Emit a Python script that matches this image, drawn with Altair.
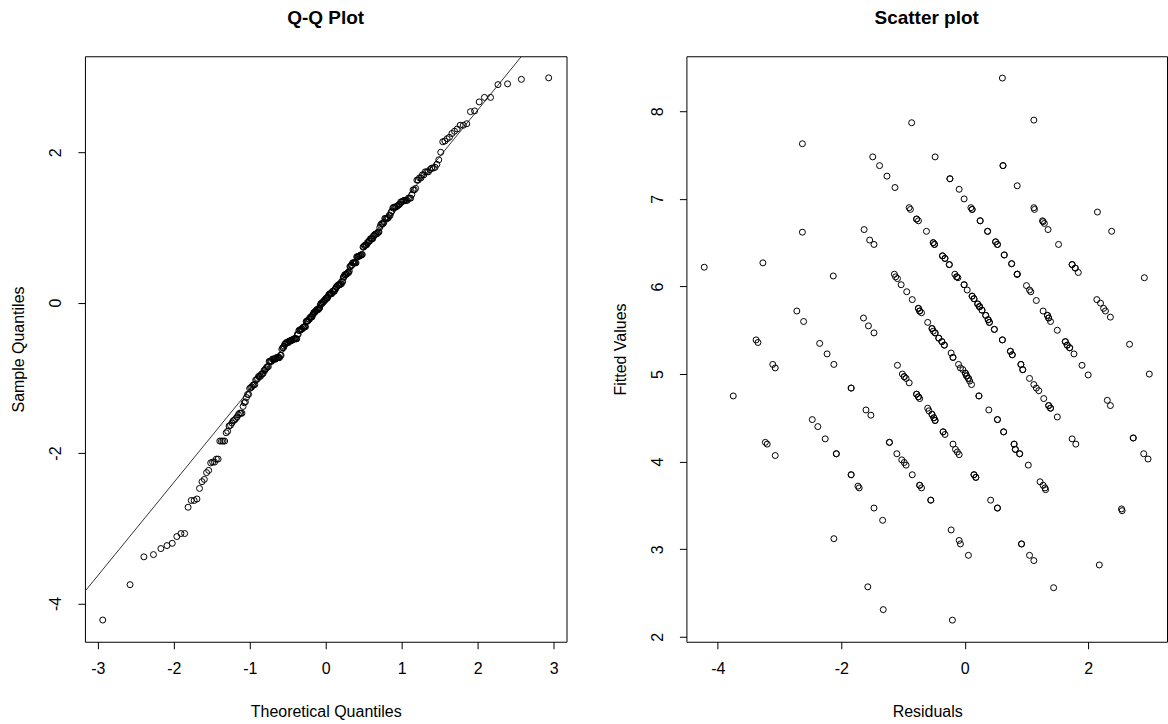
import altair as alt
import pandas as pd

# (residual, fitted value) pairs, grouped by the observed response they add up to
level_1 = [(-3.75, 4.75), (-3.23, 4.22), (-3.20, 4.20), (-3.07, 4.07), (-2.12, 3.12),
           (-1.57, 2.57), (-1.32, 2.31)]
level_2 = [(-4.22, 6.22), (-3.38, 5.39), (-3.35, 5.36), (-3.11, 5.11), (-3.07, 5.07),
           (-2.47, 4.48), (-2.38, 4.40), (-2.26, 4.26), (-2.08, 4.09), (-2.08, 4.09),
           (-1.84, 3.85), (-1.84, 3.85), (-1.73, 3.72), (-1.71, 3.70), (-1.47, 3.47),
           (-1.33, 3.33), (-0.20, 2.19)]
level_3 = [(-3.27, 6.27), (-2.72, 5.72), (-2.61, 5.60), (-2.35, 5.35), (-2.23, 5.23),
           (-2.12, 5.11), (-1.84, 4.84), (-1.84, 4.84), (-1.60, 4.59), (-1.52, 4.53),
           (-1.22, 4.22), (-1.22, 4.22), (-1.10, 4.09), (-1.02, 4.02), (-0.98, 3.99),
           (-0.95, 3.96), (-0.85, 3.85), (-0.73, 3.73), (-0.73, 3.73), (-0.70, 3.70),
           (-0.55, 3.56), (-0.55, 3.56), (-0.22, 3.22), (-0.09, 3.10), (-0.07, 3.06),
           (0.06, 2.93)]
level_4 = [(-2.63, 6.62), (-2.13, 6.12), (-1.64, 5.64), (-1.56, 5.55), (-1.47, 5.47),
           (-1.09, 5.10), (-1.01, 5.00), (-0.98, 4.97), (-0.98, 4.97), (-0.95, 4.95),
           (-0.90, 4.90), (-0.78, 4.77), (-0.78, 4.77), (-0.75, 4.74), (-0.75, 4.74),
           (-0.73, 4.72), (-0.60, 4.61), (-0.58, 4.58), (-0.53, 4.54), (-0.53, 4.54),
           (-0.50, 4.50), (-0.50, 4.50), (-0.48, 4.47), (-0.48, 4.47), (-0.35, 4.34),
           (-0.35, 4.34), (-0.32, 4.31), (-0.19, 4.20), (-0.15, 4.14), (-0.12, 4.11),
           (-0.09, 4.08), (0.15, 3.85), (0.15, 3.85), (0.18, 3.82), (0.18, 3.82),
           (0.42, 3.56), (0.53, 3.47), (0.53, 3.47), (0.92, 3.06), (0.92, 3.06),
           (1.05, 2.93), (1.12, 2.87), (1.44, 2.56)]
level_5 = [(-2.63, 7.63), (-1.63, 6.65), (-1.54, 6.53), (-1.47, 6.48), (-1.14, 6.14),
           (-1.12, 6.11), (-1.09, 6.09), (-1.03, 6.02), (-0.94, 5.94), (-0.85, 5.85),
           (-0.75, 5.75), (-0.75, 5.75), (-0.73, 5.72), (-0.73, 5.72), (-0.70, 5.70),
           (-0.60, 5.59), (-0.53, 5.52), (-0.53, 5.52), (-0.51, 5.49), (-0.48, 5.47),
           (-0.48, 5.47), (-0.42, 5.41), (-0.42, 5.41), (-0.37, 5.37), (-0.37, 5.37),
           (-0.33, 5.33), (-0.33, 5.33), (-0.22, 5.24), (-0.19, 5.19), (-0.19, 5.19),
           (-0.10, 5.11), (-0.07, 5.07), (-0.03, 5.05), (0.01, 5.01), (0.01, 5.01),
           (0.03, 4.98), (0.03, 4.98), (0.06, 4.95), (0.06, 4.95), (0.08, 4.92),
           (0.11, 4.88), (0.23, 4.75), (0.23, 4.75), (0.39, 4.59), (0.53, 4.48),
           (0.53, 4.48), (0.63, 4.34), (0.63, 4.34), (0.80, 4.20), (0.80, 4.20),
           (0.82, 4.14), (0.82, 4.14), (0.89, 4.09), (0.89, 4.09), (1.03, 3.96),
           (1.22, 3.77), (1.27, 3.73), (1.30, 3.70), (1.31, 3.68), (2.18, 2.82)]
level_6 = [(-1.49, 7.48), (-1.38, 7.38), (-1.26, 7.26), (-1.13, 7.13), (-0.90, 6.90),
           (-0.88, 6.88), (-0.78, 6.77), (-0.78, 6.77), (-0.75, 6.75), (-0.62, 6.63),
           (-0.51, 6.50), (-0.51, 6.50), (-0.49, 6.48), (-0.49, 6.48), (-0.36, 6.35),
           (-0.36, 6.35), (-0.32, 6.32), (-0.32, 6.32), (-0.25, 6.25), (-0.25, 6.25),
           (-0.16, 6.14), (-0.13, 6.11), (-0.13, 6.11), (-0.11, 6.10), (-0.01, 6.02),
           (-0.01, 6.02), (0.04, 5.96), (0.12, 5.89), (0.12, 5.89), (0.15, 5.86),
           (0.15, 5.86), (0.21, 5.80), (0.21, 5.80), (0.24, 5.77), (0.24, 5.77),
           (0.24, 5.77), (0.28, 5.73), (0.28, 5.73), (0.34, 5.67), (0.34, 5.67),
           (0.38, 5.62), (0.38, 5.62), (0.40, 5.59), (0.40, 5.59), (0.48, 5.51),
           (0.48, 5.51), (0.61, 5.39), (0.61, 5.39), (0.74, 5.26), (0.74, 5.26),
           (0.77, 5.22), (0.77, 5.22), (0.91, 5.11), (0.91, 5.11), (0.94, 5.05),
           (0.94, 5.05), (1.05, 4.95), (1.12, 4.88), (1.16, 4.84), (1.20, 4.81),
           (1.28, 4.72), (1.36, 4.64), (1.36, 4.64), (1.39, 4.61), (1.39, 4.61),
           (1.50, 4.51), (1.74, 4.26), (1.80, 4.20), (2.54, 3.46), (2.55, 3.44)]
level_7 = [(-0.86, 7.87), (-0.48, 7.48), (-0.24, 7.23), (-0.24, 7.23), (-0.09, 7.11),
           (-0.01, 7.00), (0.10, 6.90), (0.12, 6.88), (0.12, 6.88), (0.25, 6.75),
           (0.25, 6.75), (0.37, 6.63), (0.37, 6.63), (0.50, 6.51), (0.50, 6.51),
           (0.53, 6.48), (0.53, 6.48), (0.64, 6.36), (0.64, 6.36), (0.76, 6.26),
           (0.76, 6.26), (0.85, 6.14), (0.85, 6.14), (0.85, 6.14), (1.00, 6.01),
           (1.05, 5.96), (1.07, 5.94), (1.16, 5.84), (1.27, 5.72), (1.34, 5.67),
           (1.34, 5.67), (1.36, 5.64), (1.36, 5.64), (1.39, 5.60), (1.50, 5.50),
           (1.63, 5.37), (1.63, 5.37), (1.66, 5.33), (1.66, 5.33), (1.70, 5.30),
           (1.70, 5.30), (1.77, 5.23), (1.90, 5.10), (2.00, 4.99), (2.31, 4.70),
           (2.36, 4.64), (2.73, 4.27), (2.73, 4.27), (2.90, 4.09), (2.97, 4.03)]
level_8 = [(0.62, 7.38), (0.62, 7.38), (0.85, 7.15), (1.12, 6.90), (1.13, 6.88),
           (1.26, 6.75), (1.27, 6.74), (1.29, 6.72), (1.35, 6.65), (1.52, 6.48),
           (1.74, 6.25), (1.74, 6.25), (1.79, 6.21), (1.79, 6.21), (1.84, 6.16),
           (2.14, 5.85), (2.20, 5.81), (2.25, 5.75), (2.28, 5.72), (2.36, 5.65),
           (2.67, 5.34), (2.99, 5.00)]
level_9 = [(0.61, 8.38), (1.12, 7.90), (2.15, 6.85), (2.38, 6.63), (2.91, 6.10)]

levels = [level_1, level_2, level_3, level_4, level_5, level_6, level_7, level_8, level_9]
df = pd.DataFrame([{"residual": r, "fitted": f} for lv in levels for r, f in lv])

qq_x_ticks = [-3, -2, -1, 0, 1, 2, 3]
qq_y_ticks = [-4, -2, 0, 2]
sc_x_ticks = [-4, -2, 0, 2]
sc_y_ticks = [2, 3, 4, 5, 6, 7, 8]

FONT = "Liberation Sans"
W, H = 482, 586


def x_axis(values, title):
    return alt.Axis(
        values=values, title=title, grid=False, domain=False,
        ticks=True, tickSize=7, tickColor="black", tickWidth=1,
        labelFont=FONT, labelFontSize=16, labelColor="black", labelPadding=12,
        labelFlush=False, labelOverlap=False, labelExpr="'' + datum.value",
        titleFont=FONT, titleFontSize=16, titleFontWeight="normal", titleColor="black",
        titleX=W / 2, titleY=70, titleAlign="center", titleBaseline="middle",
    )


def y_axis(values, title):
    return alt.Axis(
        values=values, title=title, grid=False, domain=False,
        ticks=True, tickSize=7, tickColor="black", tickWidth=1,
        labelFont=FONT, labelFontSize=16, labelColor="black", labelPadding=14,
        labelAngle=270, labelAlign="center", labelBaseline="bottom",
        labelFlush=False, labelOverlap=False, labelExpr="'' + datum.value",
        titleFont=FONT, titleFontSize=16, titleFontWeight="normal", titleColor="black",
        titleAngle=270, titleX=-66, titleY=H / 2, titleAlign="center",
        titleBaseline="middle",
    )


def heading(text, width):
    # bold heading centred above the plot frame
    return (
        alt.Chart(pd.DataFrame({"label": [text]}))
        .mark_text(font=FONT, fontSize=19, fontWeight="bold", color="black",
                   align="center", baseline="middle")
        .encode(text="label:N", x=alt.value(width / 2), y=alt.value(-38))
    )


circle = dict(shape="circle", filled=False, size=36, strokeWidth=1,
              color="black", opacity=1)

# Normal Q-Q plot of the residuals: theoretical quantiles from the ranks
qq_base = (
    alt.Chart(df)
    .transform_window(rank="row_number()", sort=[alt.SortField("residual", order="ascending")])
    .transform_joinaggregate(n="count()")
    .transform_calculate(theoretical="quantileNormal((datum.rank - 0.5) / datum.n)")
)
qq_x = alt.X("theoretical:Q", scale=alt.Scale(domain=[-3.17, 3.17], nice=False, zero=False),
             axis=x_axis(qq_x_ticks, "Theoretical Quantiles"))
qq_y = alt.Y("residual:Q", scale=alt.Scale(domain=[-4.509, 3.277], nice=False, zero=False),
             axis=y_axis(qq_y_ticks, "Sample Quantiles"))
qq_points = qq_base.mark_point(**circle).encode(x=qq_x, y=qq_y)

# Reference line through the first and third quartiles
qq_line = (
    alt.Chart(df)
    .transform_aggregate(q1="q1(residual)", q3="q3(residual)")
    .transform_calculate(slope="(datum.q3 - datum.q1) / (2 * quantileNormal(0.75))")
    .transform_calculate(intercept="datum.q1 + datum.slope * quantileNormal(0.75)")
    .transform_calculate(x_lo="-4", x_hi="4")
    .transform_calculate(y_lo="datum.intercept + datum.slope * datum.x_lo",
                         y_hi="datum.intercept + datum.slope * datum.x_hi")
    .mark_rule(clip=True, color="#333333", strokeWidth=1)
    .encode(x=alt.X("x_lo:Q"), x2="x_hi:Q", y=alt.Y("y_lo:Q"), y2="y_hi:Q")
)

# invisible corner marker that fixes where the first plot frame starts on the page
corner = (
    alt.Chart(pd.DataFrame({"k": [0]}))
    .mark_rule(opacity=0, strokeWidth=0.01)
    .encode(x=alt.value(-84), x2=alt.value(-84), y=alt.value(-55), y2=alt.value(-54))
)

qq = alt.layer(corner, heading("Q-Q Plot", W), qq_line, qq_points).properties(width=W, height=H)

scatter_points = (
    alt.Chart(df)
    .mark_point(**circle)
    .encode(
        x=alt.X("residual:Q", scale=alt.Scale(domain=[-4.509, 3.277], nice=False, zero=False),
                axis=x_axis(sc_x_ticks, "Residuals")),
        y=alt.Y("fitted:Q", scale=alt.Scale(domain=[1.943, 8.629], nice=False, zero=False),
                axis=y_axis(sc_y_ticks, "Fitted Values")),
    )
)
scatter = alt.layer(heading("Scatter plot", 481), scatter_points).properties(width=481, height=H)

chart = (
    alt.hconcat(qq, scatter, spacing=120, bounds="flush")
    .properties(padding={"left": 0, "top": 0, "right": 0, "bottom": 0}, background="white")
    .configure_view(stroke="black", strokeWidth=1)
)

chart.save("out.html", embed_options={"renderer": "svg", "actions": False})
